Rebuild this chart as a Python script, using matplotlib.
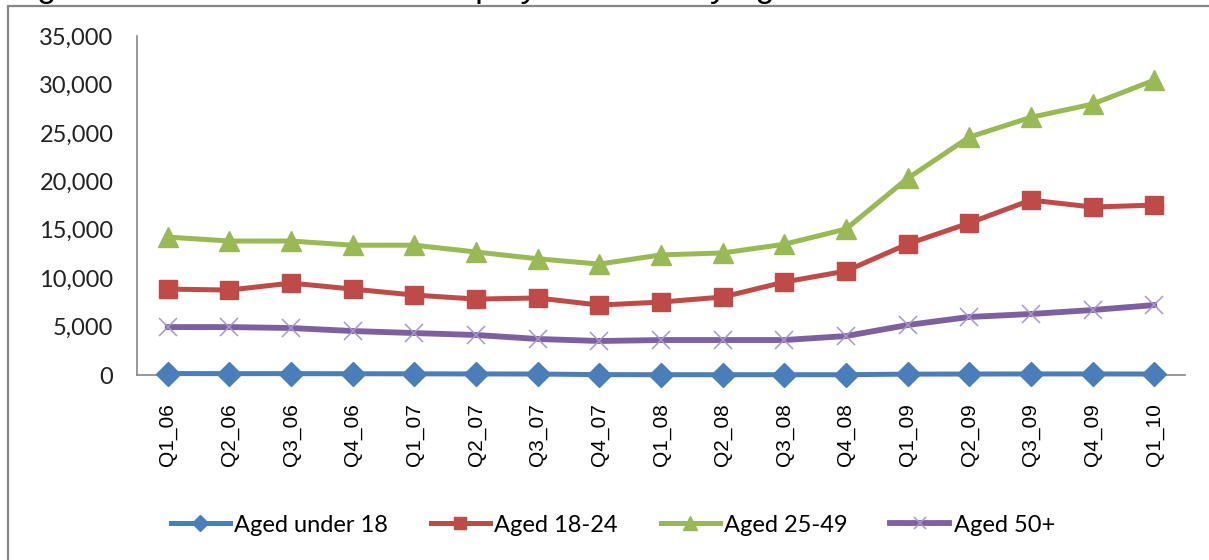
import matplotlib.pyplot as plt
from matplotlib.patches import Rectangle
from matplotlib.ticker import FuncFormatter

# quarterly claimant counts by age band
quarters = ["Q1_06", "Q2_06", "Q3_06", "Q4_06", "Q1_07", "Q2_07", "Q3_07", "Q4_07",
            "Q1_08", "Q2_08", "Q3_08", "Q4_08", "Q1_09", "Q2_09", "Q3_09", "Q4_09", "Q1_10"]
under_18 = [150, 140, 140, 130, 120, 110, 100, 40, 30, 30, 30, 30, 90, 100, 110, 110, 100]
aged_18_24 = [8870, 8770, 9490, 8870, 8250, 7840, 7950, 7220, 7530, 8050, 9600, 10730,
              13520, 15690, 18060, 17340, 17540]
aged_25_49 = [14240, 13830, 13830, 13400, 13400, 12700, 12000, 11450, 12400, 12600, 13500,
              15070, 20300, 24560, 26600, 27970, 30440]
aged_50_plus = [4950, 4950, 4850, 4540, 4330, 4130, 3720, 3510, 3610, 3610, 3610, 4020,
                5160, 5990, 6300, 6710, 7220]

W, H = 1209, 560
fig = plt.figure(figsize=(W / 100, H / 100), dpi=100)

# chart frame, runs off the right and bottom edges
fig.patches.append(Rectangle((8 / W, -0.1), 1.2, 1 - 6 / H + 0.1, transform=fig.transFigure,
                             fill=False, edgecolor="#868686", linewidth=1.6))

# title line sitting above the top edge
fig.text(9 / W, 1 + 3 / H, "Figure 3: Claimant count unemployment rate by age",
         fontsize=24.5, family="Liberation Sans", va="baseline", ha="left")

ax = fig.add_axes([137 / W, 1 - 375 / H, (1185 - 137) / W, (375 - 36) / H])
x = range(len(quarters))

ax.plot(x, under_18, color="#4A7EBB", lw=3.6, marker="D", ms=12, label="Aged under 18",
        clip_on=False, zorder=4)
ax.plot(x, aged_18_24, color="#BE4B48", lw=3.6, marker="s", ms=13, label="Aged 18-24",
        clip_on=False, zorder=3)
ax.plot(x, aged_25_49, color="#98B954", lw=3.6, marker="^", ms=15, label="Aged 25-49",
        clip_on=False, zorder=3)
ax.plot(x, aged_50_plus, color="#7D60A0", lw=4.2, marker="x", ms=13, mew=1.1,
        mec="#A896CC", label="Aged 50+", clip_on=False, zorder=3)

ax.set_xlim(-0.5, len(quarters) - 0.5)
ax.set_ylim(0, 35000)
ax.set_yticks(range(0, 35001, 5000))
ax.yaxis.set_major_formatter(FuncFormatter(lambda v, p: f"{int(v):,}"))
ax.set_xticks(list(x))
ax.set_xticklabels(quarters, rotation=90, fontsize=15, family="Liberation Sans")
for lab in ax.get_yticklabels():
    lab.set_fontsize(17)
    lab.set_family("Lato")
    lab.set_color("#222222")
ax.tick_params(axis="y", length=0, pad=17)
ax.tick_params(axis="x", length=0, pad=20)

for side in ("top", "right"):
    ax.spines[side].set_visible(False)
for side in ("left", "bottom"):
    ax.spines[side].set_color("#868686")
    ax.spines[side].set_linewidth(1.2)

fig.legend(loc="center", bbox_to_anchor=(613 / W, 1 - 525 / H), ncol=4, frameon=False,
           prop={"family": "Lato", "size": 17}, handlelength=2.5, handletextpad=0.2,
           columnspacing=1.8, markerscale=0.65)

plt.savefig("out.png", dpi=100)
